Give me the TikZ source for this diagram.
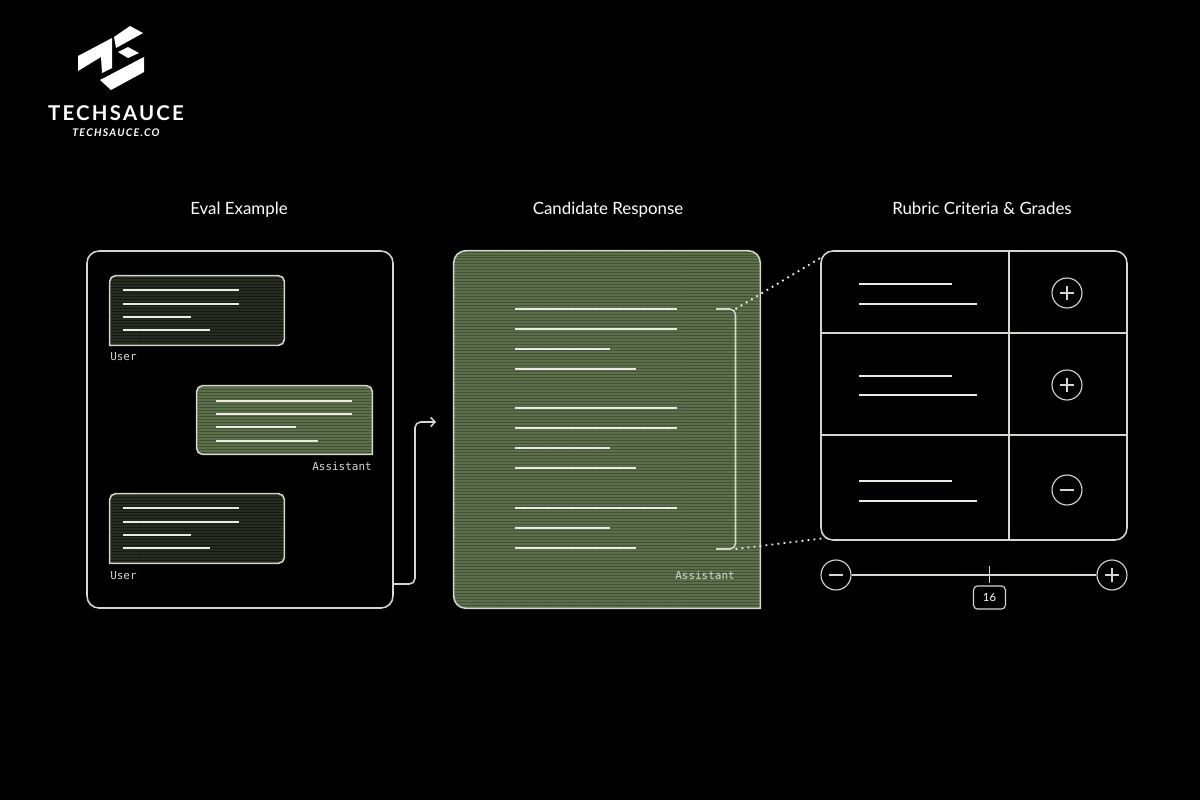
\documentclass[tikz,border=0pt]{standalone}
\usepackage{xcolor}
\usepackage{fontspec}
\setmainfont{Lato}
\setmonofont{DejaVu Sans Mono}
\usetikzlibrary{patterns.meta, arrows.meta}
\definecolor{bggreen}{HTML}{5C6E4A}
\definecolor{bgstripe}{HTML}{414F35}
\definecolor{dkgreen}{HTML}{272C23}
\definecolor{dkstripe}{HTML}{14180F}
\definecolor{edgeline}{HTML}{D4D7CE}
\definecolor{textline}{HTML}{E9EBE4}
\tikzset{
  heading/.style={text=white, font=\fontsize{12pt}{14pt}\selectfont, inner sep=0pt, anchor=base},
  role/.style={text=edgeline, font=\ttfamily\fontsize{7.8pt}{9pt}\selectfont, inner sep=0pt},
  slot/.style 2 args={inner sep=0pt, minimum width=#1, minimum height=#2},
  txt/.style={draw=textline, line width=1.4pt},
  frame/.style={draw=edgeline, line width=1.1pt},
  hatchdark/.style={preaction={fill=dkgreen}, preaction={pattern={Lines[distance=2.13pt,angle=0,line width=0.7pt]}, pattern color=dkstripe}},
  hatchlight/.style={preaction={fill=bggreen}, preaction={pattern={Lines[distance=2.13pt,angle=0,line width=0.7pt]}, pattern color=bgstripe}},
  roundbtn/.style={circle, draw=edgeline, line width=0.8pt, fill=black, minimum size=7.5mm, inner sep=0pt},
  plusbtn/.style={roundbtn, path picture={\draw[frame] ([xshift=-1.75mm]path picture bounding box.center) -- ([xshift=1.75mm]path picture bounding box.center); \draw[frame] ([yshift=-1.75mm]path picture bounding box.center) -- ([yshift=1.75mm]path picture bounding box.center);}},
  minusbtn/.style={roundbtn, path picture={\draw[frame] ([xshift=-1.75mm]path picture bounding box.center) -- ([xshift=1.75mm]path picture bounding box.center);}},
  dotline/.style={draw=textline, line width=1.3pt, dash pattern=on 1.3pt off 3pt},
}
% user bubble outline, square at the lower left
\newcommand{\usershape}[1]{\draw[frame, hatchdark] (#1.west) [rounded corners=4pt] -- (#1.north west) -- (#1.north east) -- (#1.south east) [sharp corners] -- (#1.south west) -- cycle;}
\begin{document}
\begin{tikzpicture}[x=0.25mm, y=-0.25mm]
  \useasboundingbox (0,0) rectangle (1200,800);
  \fill[black] (0,0) rectangle (1200,800);

  % Logo
  \fill[white] (78,56) -- (112,38) -- (112,68) -- (102,73) -- (101,57) -- (78,71) -- cycle;
  \fill[white] (114,37) -- (130,26) -- (143,33) -- (116,48) -- cycle;
  \fill[white] (118,52) -- (128,47) -- (139,53) -- (128,58) -- cycle;
  \fill[white] (100,80) -- (144,57) -- (144,72) -- (111,90) -- cycle;
  \node[text=white, inner sep=0pt, font=\bfseries\addfontfeature{LetterSpace=11}\fontsize{14.5pt}{16pt}\selectfont] (brand) at (116,113) {TECHSAUCE};
  \node[text=white, inner sep=0pt, font=\bfseries\itshape\addfontfeature{LetterSpace=12}\fontsize{7.5pt}{9pt}\selectfont] (site) at (116,133) {TECHSAUCE.CO};

  % Headings
  \node[heading] (evalhead) at (239,214) {Eval Example};
  \node[heading] (resphead) at (608,214) {Candidate Response};
  \node[heading] (rubrichead) at (982,214) {Rubric Criteria \& Grades};

  % Eval panel
  \node[slot={76.5mm}{89.25mm}, frame, rounded corners=3mm] (eval) at (240,429.5) {};
  \node[slot={43.5mm}{17.25mm}] (user1) at (197,310.5) {};
  \node[slot={43.75mm}{17mm}] (bot1) at (284.5,420) {};
  \node[slot={43.5mm}{17.25mm}] (user2) at (197,528.5) {};
  \usershape{user1}
  \usershape{user2}
  \draw[frame, hatchlight] (bot1.west) [rounded corners=4pt] -- (bot1.north west) -- (bot1.north east) [sharp corners] -- (bot1.south east) [rounded corners=4pt] -- (bot1.south west) -- cycle;
  \node[role, anchor=west] (userlab1) at (110,356.5) {User};
  \node[role, anchor=east] (botlab1) at (372,466) {Assistant};
  \node[role, anchor=west] (userlab2) at (110,575.5) {User};
  \foreach \y/\e in {290/239, 304/239, 317/191, 330/210, 508/239, 522/239, 535/191, 548/210}
    \draw[txt] (123,\y) -- (\e,\y);
  \foreach \y/\e in {401/352, 414/352, 427/296, 441/318}
    \draw[txt] (216,\y) -- (\e,\y);

  % Connector
  \coordinate (tip) at (436,422);
  \draw[frame, -{Straight Barb[length=3pt,width=6.5pt]}, rounded corners=4pt] (eval.east |- 0,584) -- (415,584) -- (415,422) -- (tip);

  % Response panel
  \node[slot={76.5mm}{89.25mm}] (resp) at (607,429.5) {};
  \draw[frame, hatchlight] (resp.west) [rounded corners=3mm] -- (resp.north west) -- (resp.north east) [sharp corners] -- (resp.south east) [rounded corners=3mm] -- (resp.south west) -- cycle;
  \foreach \y/\e in {309/677, 329/677, 349/610, 369/636, 408/677, 428/677, 448/610, 468/636, 508/677, 528/610, 548/636}
    \draw[txt] (515,\y) -- (\e,\y);
  \node[role, anchor=east] (resplab) at (735,575.5) {Assistant};
  \coordinate (brtop) at (735.5,309);
  \coordinate (brbot) at (735.5,549);
  \draw[frame, rounded corners=4pt] (716,309) -- (brtop) -- (brbot) -- (716,549);

  % Rubric
  \node[slot={76.5mm}{72.25mm}, frame, rounded corners=3mm] (rubric) at (974,395.5) {};
  \coordinate (rubtop) at (822,257);
  \coordinate (rubbot) at (826,538);
  \draw[dotline] (brtop) -- (rubtop);
  \draw[dotline] (brbot) -- (rubbot);
  \draw[frame] (rubric.west |- 0,333) -- (rubric.east |- 0,333);
  \draw[frame] (rubric.west |- 0,435) -- (rubric.east |- 0,435);
  \draw[frame] (1009,251) -- (1009,540);
  \foreach \y/\e in {284/952, 304/977, 376/952, 395/977, 481/952, 501/977}
    \draw[txt] (859,\y) -- (\e,\y);
  \node[plusbtn] (gradeA) at (1067,293) {};
  \node[plusbtn] (gradeB) at (1067,385) {};
  \node[minusbtn] (gradeC) at (1067,490) {};

  % Scale
  \node[minusbtn] (minus) at (836,575) {};
  \node[plusbtn] (plus) at (1112,575) {};
  \draw[frame] (minus) -- (plus);
  \node[slot={8mm}{5.75mm}, draw=edgeline, line width=0.8pt, rounded corners=1mm, text=white, font=\fontsize{8pt}{9pt}\selectfont] (score) at (989.5,597.5) {16};
  \draw[frame] (score.north |- 0,566) -- (score.north |- 0,583);
\end{tikzpicture}
\end{document}
